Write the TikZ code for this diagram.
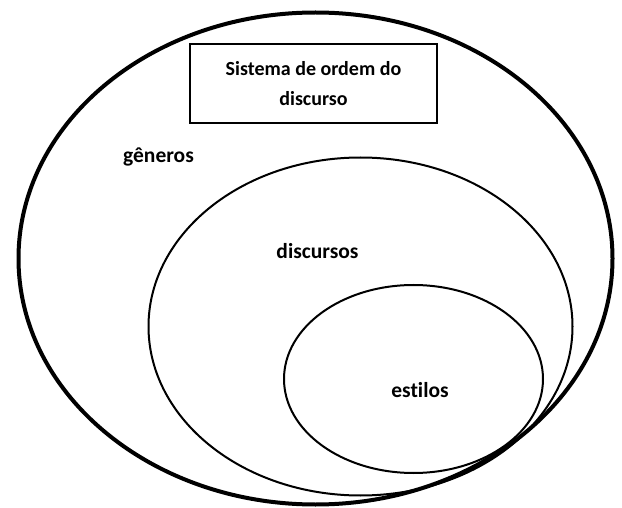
\documentclass[tikz,border=0pt]{standalone}
\usepackage{fontspec}
\setmainfont{Carlito}[Ligatures=NoCommon]
\tikzset{
  rotulo/.style={font=\fontsize{21.5}{30}\selectfont\bfseries, align=center},
  titulo/.style={font=\fontsize{20}{30}\selectfont\bfseries, align=center}
}
\begin{document}
\begin{tikzpicture}[x=1pt,y=-1pt]
  \useasboundingbox (0,0) rectangle (622,508);
  % conjuntos
  \draw[black, line width=4pt] (315.5,258.5) ellipse (297 and 246);
  \draw[black, line width=2pt] (360.5,326.5) ellipse (212 and 169);
  \draw[black, line width=2pt] (413.5,379) ellipse (129.5 and 94);
  % quadro do titulo
  \node[titulo, draw, line width=1.7pt, minimum width=247pt, minimum height=79pt] (sistema) at (313.5,83.5) {Sistema de ordem do\\discurso};
  % rotulos
  \node[rotulo] (generos) at (158.5,157) {gêneros};
  \node[rotulo] (discursos) at (317.5,251) {discursos};
  \node[rotulo] (estilos) at (420,390) {estilos};
\end{tikzpicture}
\end{document}
